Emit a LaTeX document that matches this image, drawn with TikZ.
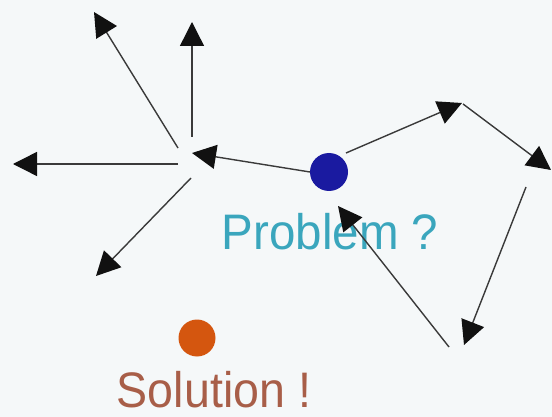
\documentclass[tikz,border=0pt]{standalone}
\usepackage{fontspec}
\setmainfont{Liberation Sans}
\usetikzlibrary{arrows.meta}
\definecolor{bgc}{HTML}{F5F8F9}
\definecolor{linec}{HTML}{3A3A3A}
\definecolor{headc}{HTML}{111111}
\definecolor{probc}{HTML}{3AA6BD}
\definecolor{solc}{HTML}{A85E48}
\definecolor{bluedot}{HTML}{1A1AA0}
\definecolor{orangedot}{HTML}{D4560F}
\begin{document}
\begin{tikzpicture}[x=1pt,y=-1pt,
  arr/.style={draw=linec,line width=1.4pt,-{Triangle[length=24pt,width=24pt,color=headc]}},
  dot/.style={circle,inner sep=0pt,minimum size=#1},
  lbl/.style={font=\fontsize{48}{50}\selectfont,anchor=base,inner sep=0pt}]
\fill[bgc] (0,0) rectangle (552,417);
\useasboundingbox (0,0) rectangle (552,417);
% dots
\node[dot=38pt,fill=bluedot] (P) at (329,172) {};
\node[dot=37pt,fill=orangedot] (S) at (197,338) {};
% labels
\node[lbl,text=probc] (ptext) at (330,250) {\scalebox{0.99}[1.04]{Problem ?}};
\node[lbl,text=solc] (stext) at (214,407) {\scalebox{0.97}[1.04]{Solution !}};
% hub coordinates
\coordinate (hubin) at (192,153);
\coordinate (h1s) at (178,148);
\coordinate (h1e) at (94,12);
\coordinate (h2s) at (192,137);
\coordinate (h2e) at (192,22);
\coordinate (h3s) at (178,164);
\coordinate (h3e) at (13,164);
\coordinate (h4s) at (191,178);
\coordinate (h4e) at (96,276);
% loop coordinates
\coordinate (pout) at (346,153);
\coordinate (A) at (462,103);
\coordinate (Aout) at (463,104);
\coordinate (B) at (551,170);
\coordinate (Bout) at (526,187);
\coordinate (C) at (464,345);
\coordinate (Cout) at (449,347);
\coordinate (pin) at (338,206);
\coordinate (pleft) at (310,172);
% arrows
\draw[arr] (pleft) -- (hubin);
\draw[arr] (h1s) -- (h1e);
\draw[arr] (h2s) -- (h2e);
\draw[arr] (h3s) -- (h3e);
\draw[arr] (h4s) -- (h4e);
\draw[arr] (pout) -- (A);
\draw[arr] (Aout) -- (B);
\draw[arr] (Bout) -- (C);
\draw[arr] (Cout) -- (pin);
\end{tikzpicture}
\end{document}
